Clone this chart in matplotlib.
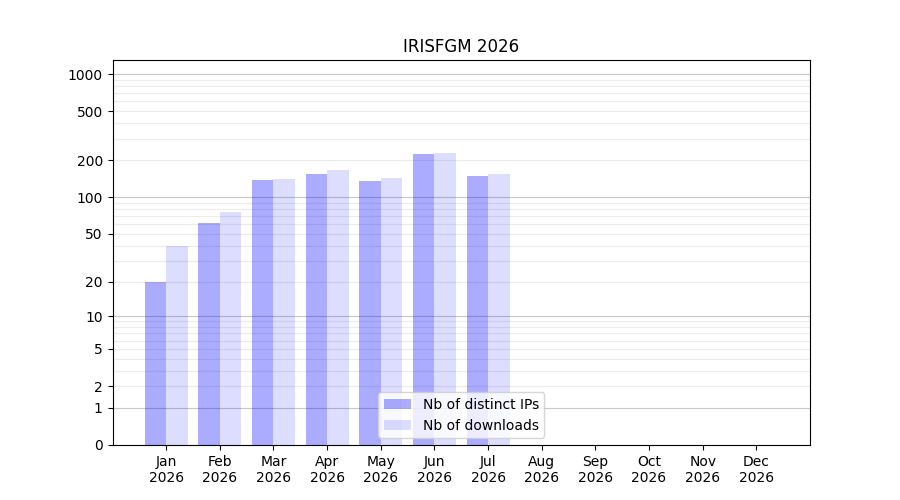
import numpy as np
import matplotlib
matplotlib.use("Agg")
import matplotlib.pyplot as plt

# donnees
months = ["Jan", "Feb", "Mar", "Apr", "May", "Jun",
          "Jul", "Aug", "Sep", "Oct", "Nov", "Dec"]
year = "2026"
ips = [20, 62, 139, 155, 136, 225, 149, 0, 0, 0, 0, 0]
downloads = [40, 76, 142, 167, 144, 230, 155, 0, 0, 0, 0, 0]
yticks = [0, 1, 2, 5, 10, 20, 50, 100, 200, 500, 1000]


def fwd(v):
    return np.log10(1 + np.clip(v, 0, None))


def inv(v):
    return 10 ** v - 1


fig, ax = plt.subplots(figsize=(9, 5), dpi=100)
x = np.arange(len(months))
w = 0.4

ax.bar(x, ips, width=-w, align="edge", color="blue", alpha=0.33,
       label="Nb of distinct IPs")
ax.bar(x, downloads, width=w, align="edge", color="blue", alpha=0.133,
       label="Nb of downloads")

ax.set_yscale("function", functions=(fwd, inv))
ax.set_ylim(0, 1300)
ax.set_xlim(-1, 12)

# lignes de grille: decades plus foncees
for d in [1, 10, 100, 1000]:
    ax.axhline(d, color="#c8c8c8", linewidth=0.8, zorder=0)
    for k in range(2, 10):
        if d * k < 1300:
            ax.axhline(d * k, color="#ececec", linewidth=0.8, zorder=0)

ax.set_yticks(yticks)
ax.set_yticklabels([str(t) for t in yticks])
ax.minorticks_off()
ax.set_xticks(x)
ax.set_xticklabels([m + "\n" + year for m in months])

ax.set_title("IRISFGM " + year)
ax.legend(loc="lower center")

fig.savefig("out.png")
